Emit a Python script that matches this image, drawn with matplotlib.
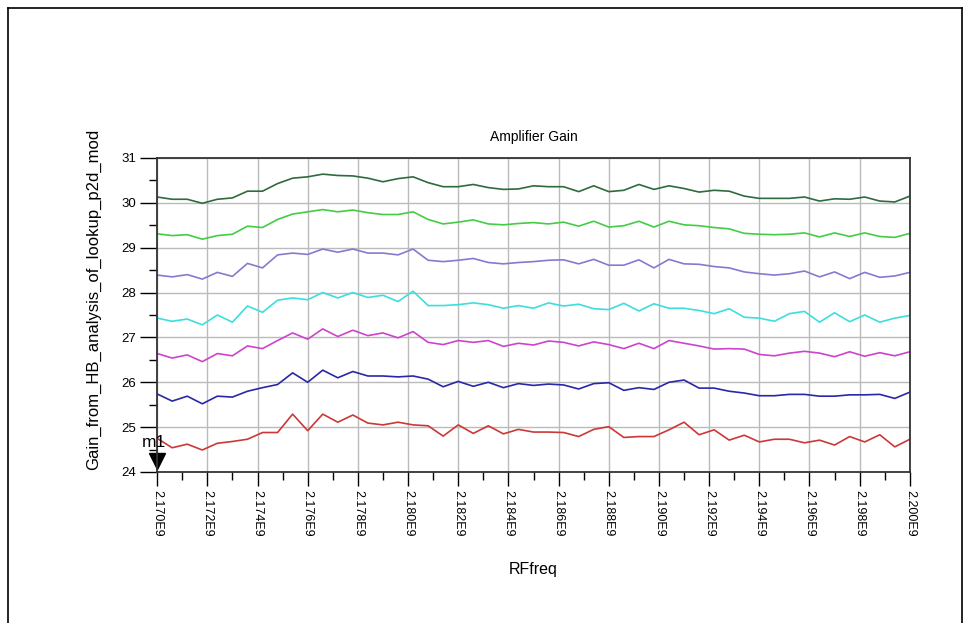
import numpy as np
import matplotlib
matplotlib.use("Agg")
import matplotlib.pyplot as plt
from matplotlib.ticker import MultipleLocator, FuncFormatter
from matplotlib.lines import Line2D

plt.rcParams['font.family'] = ['Liberation Sans', 'DejaVu Sans']

# frequency sweep, 51 points
freq = np.linspace(2.170e9, 2.200e9, 51)

gain_a = [30.13, 30.08, 30.08, 29.99, 30.08, 30.11, 30.26, 30.26, 30.43, 30.55, 30.58, 30.64, 30.61,
          30.60, 30.55, 30.47, 30.54, 30.58, 30.45, 30.36, 30.36, 30.41, 30.34, 30.30, 30.31, 30.38,
          30.36, 30.36, 30.25, 30.38, 30.25, 30.28, 30.41, 30.30, 30.38, 30.32, 30.24, 30.28,
          30.26, 30.15, 30.10, 30.10, 30.10, 30.13, 30.04, 30.09, 30.08, 30.13, 30.04, 30.02, 30.15]
gain_b = [29.31, 29.27, 29.29, 29.19, 29.27, 29.30, 29.48, 29.45, 29.63, 29.75, 29.80, 29.85, 29.80,
          29.84, 29.78, 29.74, 29.74, 29.80, 29.63, 29.53, 29.57, 29.62, 29.53, 29.51, 29.54, 29.56,
          29.53, 29.57, 29.48, 29.59, 29.46, 29.49, 29.59, 29.46, 29.59, 29.51, 29.49, 29.45,
          29.42, 29.32, 29.30, 29.29, 29.30, 29.33, 29.24, 29.33, 29.25, 29.33, 29.25, 29.23, 29.32]
gain_c = [28.39, 28.35, 28.40, 28.30, 28.45, 28.36, 28.65, 28.55, 28.84, 28.88, 28.85, 28.97, 28.90,
          28.97, 28.88, 28.88, 28.84, 28.97, 28.72, 28.69, 28.72, 28.76, 28.67, 28.64, 28.67, 28.69,
          28.72, 28.73, 28.64, 28.74, 28.61, 28.61, 28.73, 28.55, 28.74, 28.64, 28.63, 28.58,
          28.55, 28.46, 28.42, 28.39, 28.42, 28.48, 28.35, 28.46, 28.31, 28.45, 28.34, 28.37, 28.45]
gain_d = [27.43, 27.36, 27.41, 27.28, 27.50, 27.34, 27.70, 27.56, 27.83, 27.88, 27.84, 28.00, 27.88,
          28.00, 27.89, 27.94, 27.80, 28.03, 27.71, 27.71, 27.73, 27.77, 27.73, 27.65, 27.71, 27.65,
          27.77, 27.70, 27.74, 27.64, 27.62, 27.76, 27.59, 27.75, 27.65, 27.65, 27.60, 27.53,
          27.64, 27.45, 27.43, 27.36, 27.53, 27.58, 27.34, 27.55, 27.35, 27.50, 27.34, 27.43, 27.49]
gain_e = [26.64, 26.54, 26.61, 26.46, 26.64, 26.59, 26.81, 26.75, 26.93, 27.10, 26.96, 27.19, 27.02,
          27.16, 27.04, 27.10, 26.99, 27.13, 26.89, 26.84, 26.93, 26.89, 26.93, 26.80, 26.87, 26.83,
          26.92, 26.89, 26.81, 26.90, 26.84, 26.75, 26.87, 26.75, 26.93, 26.87, 26.81, 26.74,
          26.75, 26.74, 26.62, 26.59, 26.65, 26.69, 26.65, 26.57, 26.68, 26.58, 26.66, 26.59, 26.68]
gain_f = [25.74, 25.58, 25.69, 25.52, 25.69, 25.67, 25.80, 25.88, 25.95, 26.21, 26.00, 26.27, 26.10,
          26.24, 26.14, 26.14, 26.12, 26.14, 26.07, 25.90, 26.02, 25.91, 26.00, 25.88, 25.97, 25.93,
          25.96, 25.94, 25.85, 25.97, 25.99, 25.82, 25.88, 25.84, 26.00, 26.05, 25.87, 25.87,
          25.80, 25.76, 25.70, 25.70, 25.73, 25.73, 25.69, 25.69, 25.72, 25.72, 25.73, 25.64, 25.78]
gain_g = [24.75, 24.54, 24.62, 24.49, 24.64, 24.68, 24.73, 24.88, 24.88, 25.29, 24.92, 25.29, 25.11,
          25.27, 25.09, 25.05, 25.11, 25.05, 25.03, 24.80, 25.05, 24.86, 25.03, 24.85, 24.95, 24.89,
          24.89, 24.88, 24.79, 24.95, 25.01, 24.77, 24.79, 24.79, 24.94, 25.11, 24.83, 24.94,
          24.71, 24.82, 24.67, 24.73, 24.73, 24.65, 24.71, 24.60, 24.79, 24.67, 24.83, 24.56, 24.73]

series = [gain_a, gain_b, gain_c, gain_d, gain_e, gain_f, gain_g]
colors = ["#2f6b3c", "#44cc44", "#8a78d0", "#3cdede", "#cc44cc", "#2828a8", "#cc3838"]

xticks = np.arange(2.170e9, 2.2001e9, 0.002e9)

fig = plt.figure(figsize=(9.7, 6.23), dpi=100)
ax = fig.add_axes([0.162, 0.2424, 0.776, 0.504])

for y, c in zip(series, colors):
    ax.plot(freq, y, color=c, lw=1.2)

ax.set_xlim(2.170e9, 2.200e9)
ax.set_ylim(24, 31)
ax.set_xticks(xticks)
ax.xaxis.set_minor_locator(MultipleLocator(0.001e9))
ax.yaxis.set_major_locator(MultipleLocator(1))
ax.yaxis.set_minor_locator(MultipleLocator(0.5))
ax.xaxis.set_major_formatter(FuncFormatter(lambda v, p: "%.3fE9" % (v / 1e9)))
ax.tick_params(axis='x', which='major', length=10, width=1, labelsize=9, rotation=270, pad=3)
ax.tick_params(axis='x', which='minor', length=6, width=1)
ax.tick_params(axis='y', which='major', length=12, width=1, labelsize=9.5, pad=3)
ax.tick_params(axis='y', which='minor', length=6, width=1)
ax.grid(True, which='major', color="#bbbbbb", lw=1)
for s in ax.spines.values():
    s.set_color("#333333")
    s.set_linewidth(1.3)

ax.set_title("Amplifier Gain", fontsize=10, pad=12)
ax.set_xlabel("RFfreq", fontsize=11.5, labelpad=18)
ax.set_ylabel("Gain_from_HB_analysis_of_lookup_p2d_mod", fontsize=12)
ax.yaxis.set_label_coords(-0.075, 0.55)

# marker m1
ax.plot([freq[0]], [24.25], marker='v', color='black', ms=11, clip_on=False)
ax.text(freq[0] - 0.0006e9, 24.55, "m1", fontsize=12.5, clip_on=False)

# outer frame
fig.add_artist(Line2D([8 / 970, 8 / 970], [0, 1 - 8 / 623], color='black', lw=1.2))
fig.add_artist(Line2D([8 / 970, 962 / 970], [1 - 8 / 623, 1 - 8 / 623], color='black', lw=1.2))
fig.add_artist(Line2D([962 / 970, 962 / 970], [0, 1 - 8 / 623], color='black', lw=1.2))

fig.savefig("out.png", dpi=100)
